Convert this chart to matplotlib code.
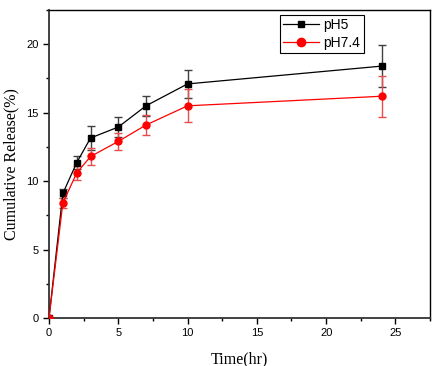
import matplotlib
matplotlib.use("Agg")
import matplotlib.pyplot as plt
from matplotlib.ticker import MultipleLocator
from matplotlib.lines import Line2D

time = [0, 1, 2, 3, 5, 7, 10, 24]
ph5 = [0, 9.1, 11.35, 13.15, 13.95, 15.5, 17.1, 18.4]
ph5_err = [0, 0.35, 0.5, 0.85, 0.7, 0.75, 1.0, 1.55]
ph74 = [0, 8.4, 10.6, 11.8, 12.9, 14.1, 15.5, 16.2]
ph74_err = [0, 0.4, 0.5, 0.6, 0.65, 0.7, 1.2, 1.5]

fig = plt.figure(figsize=(4.34, 3.66), dpi=100)
ax = fig.add_axes([0.1129, 0.1311, 0.878, 0.8416])

ax.errorbar(time, ph5, yerr=ph5_err, color='black', marker='s', markersize=4.5,
            linewidth=0.9, elinewidth=1.0, capsize=3, capthick=1.0, ecolor=(0.25, 0.25, 0.25),
            zorder=3)
ax.errorbar(time, ph74, yerr=ph74_err, color='red', marker='o', markersize=5,
            linewidth=0.9, elinewidth=1.0, capsize=3, capthick=1.0, ecolor=(0.9, 0.3, 0.3),
            zorder=3)

ax.set_xlim(0, 27.5)
ax.set_ylim(0, 22.5)
ax.xaxis.set_major_locator(MultipleLocator(5))
ax.xaxis.set_minor_locator(MultipleLocator(2.5))
ax.yaxis.set_major_locator(MultipleLocator(5))
ax.yaxis.set_minor_locator(MultipleLocator(2.5))
ax.tick_params(which='major', direction='out', length=4, width=1, labelsize=8)
ax.tick_params(which='minor', direction='out', length=2.5, width=1)
for lbl in ax.get_xticklabels() + ax.get_yticklabels():
    lbl.set_fontfamily('Liberation Sans')
for side in ['left', 'bottom']:
    ax.spines[side].set_linewidth(1.3)
    ax.spines[side].set_color('#333333')
for side in ['top', 'right']:
    ax.spines[side].set_linewidth(1.0)

ax.set_xlabel('Time(hr)', family='Liberation Serif', fontsize=11.5, labelpad=9)
ax.set_ylabel('Cumulative Release(%)', family='Liberation Serif', fontsize=11.5, labelpad=5)

handles = [Line2D([], [], color='black', marker='s', markersize=5, linewidth=0.9),
           Line2D([], [], color='red', marker='o', markersize=6, linewidth=0.9)]
leg = ax.legend(handles, ['pH5', 'pH7.4'], loc='upper right', bbox_to_anchor=(0.826, 0.985),
                fancybox=False, edgecolor='black', framealpha=1,
                prop={'family': 'Liberation Sans', 'size': 10},
                handlelength=2.6, borderpad=0.25, labelspacing=0.25, handletextpad=0.3,
                borderaxespad=0)
leg.get_frame().set_linewidth(0.8)

fig.savefig('out.png', dpi=100)
